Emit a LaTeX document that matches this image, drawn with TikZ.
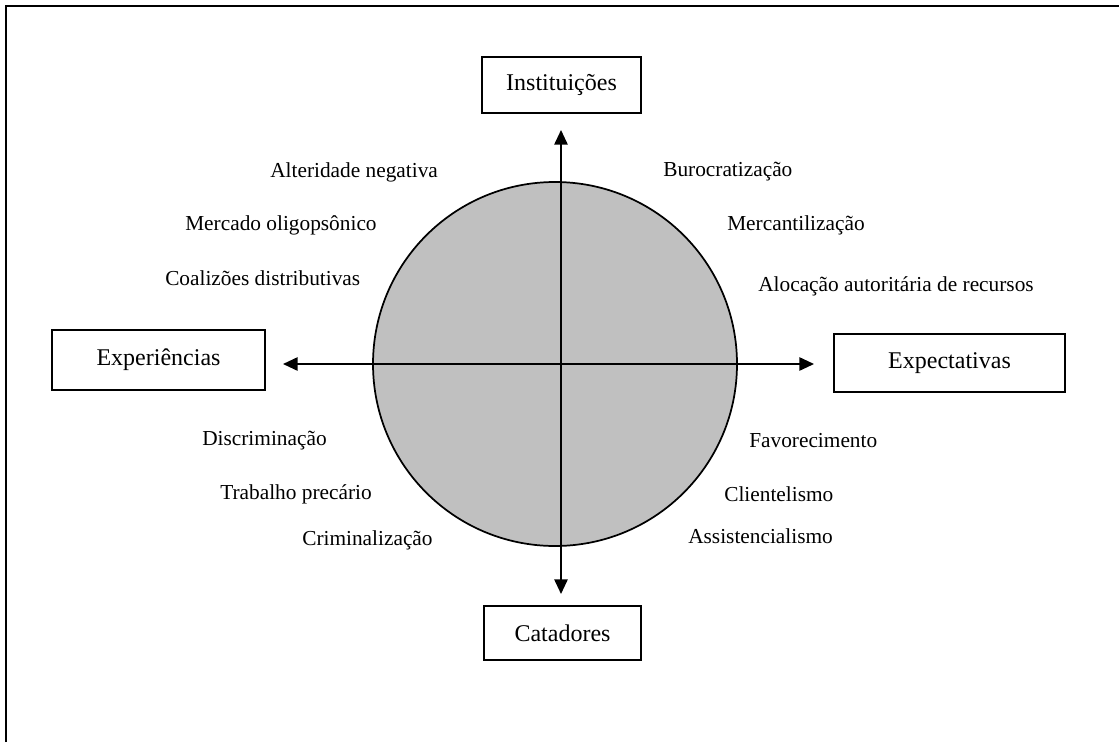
\documentclass[tikz,border=0pt]{standalone}
\usepackage{fontspec}
\setmainfont{Liberation Serif}
\usetikzlibrary{arrows.meta}
\definecolor{discgray}{HTML}{C0C0C0}
\begin{document}
\begin{tikzpicture}[x=0.75pt,y=-0.75pt,
  every node/.style={font=\fontsize{16}{19}\selectfont},
  pole/.style={draw, line width=1.5pt, inner sep=0pt, fill=white, font=\fontsize{18}{21}\selectfont},
  factor/.style={anchor=west, inner sep=0pt},
  axis/.style={line width=1.3pt, -{Triangle[length=11pt,width=10pt]}}
]
\useasboundingbox (0,0) rectangle (1119,742);
% frame
\draw[line width=1.6pt] (6,742) -- (6,6) -- (1119,6);

% central disc
\draw[line width=1.3pt, fill=discgray] (555,364) circle [radius=182];

% poles
\node[pole, minimum width=159*0.75pt, minimum height=56*0.75pt] (inst) at (561.5,85) {Instituições};
\node[pole, minimum width=157*0.75pt, minimum height=54*0.75pt] (cat) at (562.5,633) {Catadores};
\node[pole, minimum width=213*0.75pt, minimum height=60*0.75pt] (exp) at (158.5,360) {Experiências};
\node[pole, minimum width=231*0.75pt, minimum height=58*0.75pt] (expt) at (949.5,363) {Expectativas};

% axes
\coordinate (o) at (561,364);
\coordinate (tipN) at (561,130);
\coordinate (tipS) at (561,594);
\coordinate (tipW) at (283,364);
\coordinate (tipE) at (814,364);
\draw[axis] (o) -- (tipN);
\draw[axis] (o) -- (tipS);
\draw[axis] (o) -- (tipW);
\draw[axis] (o) -- (tipE);

% upper left
\node[factor] (f1) at (270,172) {Alteridade negativa};
\node[factor] (f2) at (185,225) {Mercado oligopsônico};
\node[factor] (f3) at (165,278) {Coalizões distributivas};
% upper right
\node[factor] (f4) at (663,172) {Burocratização};
\node[factor] (f5) at (727,225) {Mercantilização};
\node[factor] (f6) at (758,286) {Alocação autoritária de recursos};
% lower left
\node[factor] (f7) at (202,441) {Discriminação};
\node[factor] (f8) at (220,494) {Trabalho precário};
\node[factor] (f9) at (302,540) {Criminalização};
% lower right
\node[factor] (f10) at (749,441) {Favorecimento};
\node[factor] (f11) at (724,494) {Clientelismo};
\node[factor] (f12) at (688,536) {Assistencialismo};
\end{tikzpicture}
\end{document}
